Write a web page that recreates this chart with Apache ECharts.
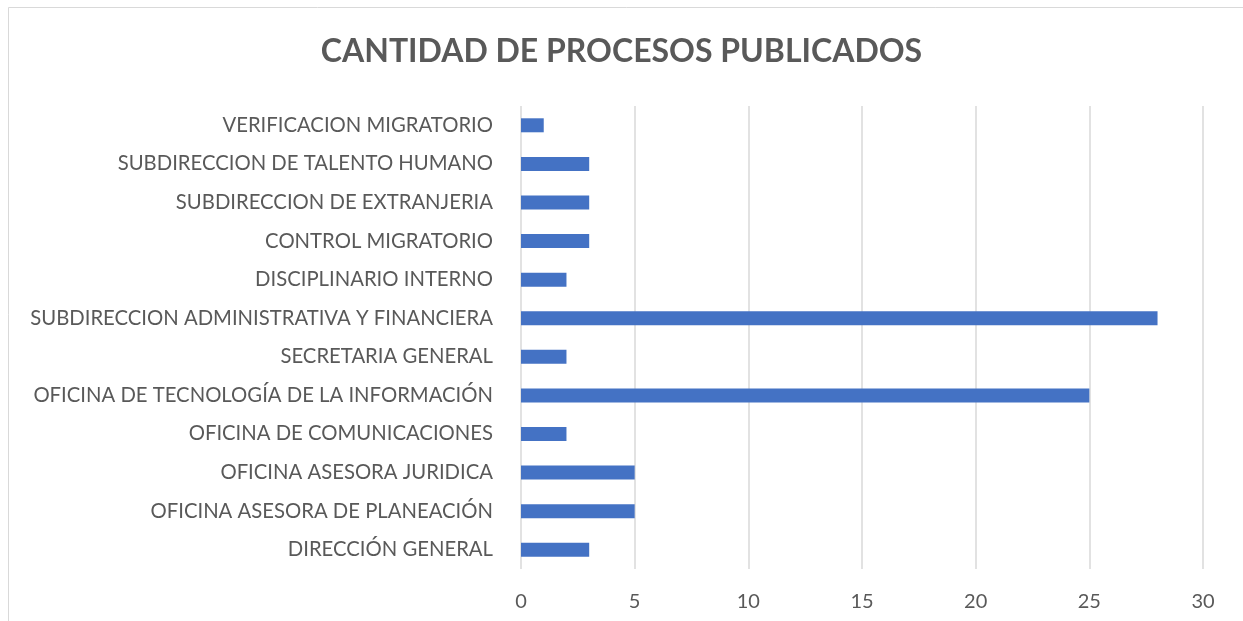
<!DOCTYPE html>
<html><head><meta charset="utf-8">
<script src="https://cdn.jsdelivr.net/npm/echarts@6/dist/echarts.min.js"></script>
<style>html,body{margin:0;padding:0;background:#fff}#c{width:1243px;height:621px}</style>
</head><body><div id="c"></div>
<script>
const categories = [
  "DIRECCIÓN GENERAL",
  "OFICINA ASESORA DE PLANEACIÓN",
  "OFICINA ASESORA JURIDICA",
  "OFICINA DE COMUNICACIONES",
  "OFICINA DE TECNOLOGÍA DE LA INFORMACIÓN",
  "SECRETARIA GENERAL",
  "SUBDIRECCION ADMINISTRATIVA Y FINANCIERA",
  "DISCIPLINARIO INTERNO",
  "CONTROL MIGRATORIO",
  "SUBDIRECCION DE EXTRANJERIA",
  "SUBDIRECCION DE TALENTO HUMANO",
  "VERIFICACION MIGRATORIO"
];
const values = [3, 5, 5, 2, 25, 2, 28, 2, 3, 3, 3, 1];
const xTicks = [0, 5, 10, 15, 20, 25, 30];

const chart = echarts.init(document.getElementById('c'), null, {renderer: 'canvas'});
chart.setOption({
  backgroundColor: '#fff',
  animation: false,
  title: {
    text: 'CANTIDAD DE PROCESOS PUBLICADOS',
    left: 'center',
    top: 31,
    textStyle: {fontFamily: 'Lato', fontWeight: 'bold', fontSize: 32, color: '#595959'}
  },
  graphic: [{
    type: 'rect', shape: {x: 8.5, y: 7.5, width: 1260, height: 640},
    style: {fill: 'none', stroke: '#d9d9d9', lineWidth: 1}, silent: true
  }],
  grid: {left: 521, right: 40, top: 106, bottom: 52, containLabel: false},
  xAxis: {
    type: 'value', min: 0, max: 30, interval: 5,
    axisLine: {show: false}, axisTick: {show: false},
    splitLine: {lineStyle: {color: '#d9d9d9', width: 1.5}},
    axisLabel: {
      fontFamily: 'Lato', fontSize: 20, color: '#595959', margin: 23,
      formatter: v => xTicks.includes(v) ? String(v) : ''
    }
  },
  yAxis: {
    type: 'category', data: categories,
    axisLine: {show: false}, axisTick: {show: false},
    axisLabel: {fontFamily: 'Lato', fontSize: 20.3, color: '#595959', margin: 28}
  },
  series: [{
    type: 'bar', data: values, barWidth: 14,
    itemStyle: {color: '#4472c4'}
  }]
});
</script></body></html>
